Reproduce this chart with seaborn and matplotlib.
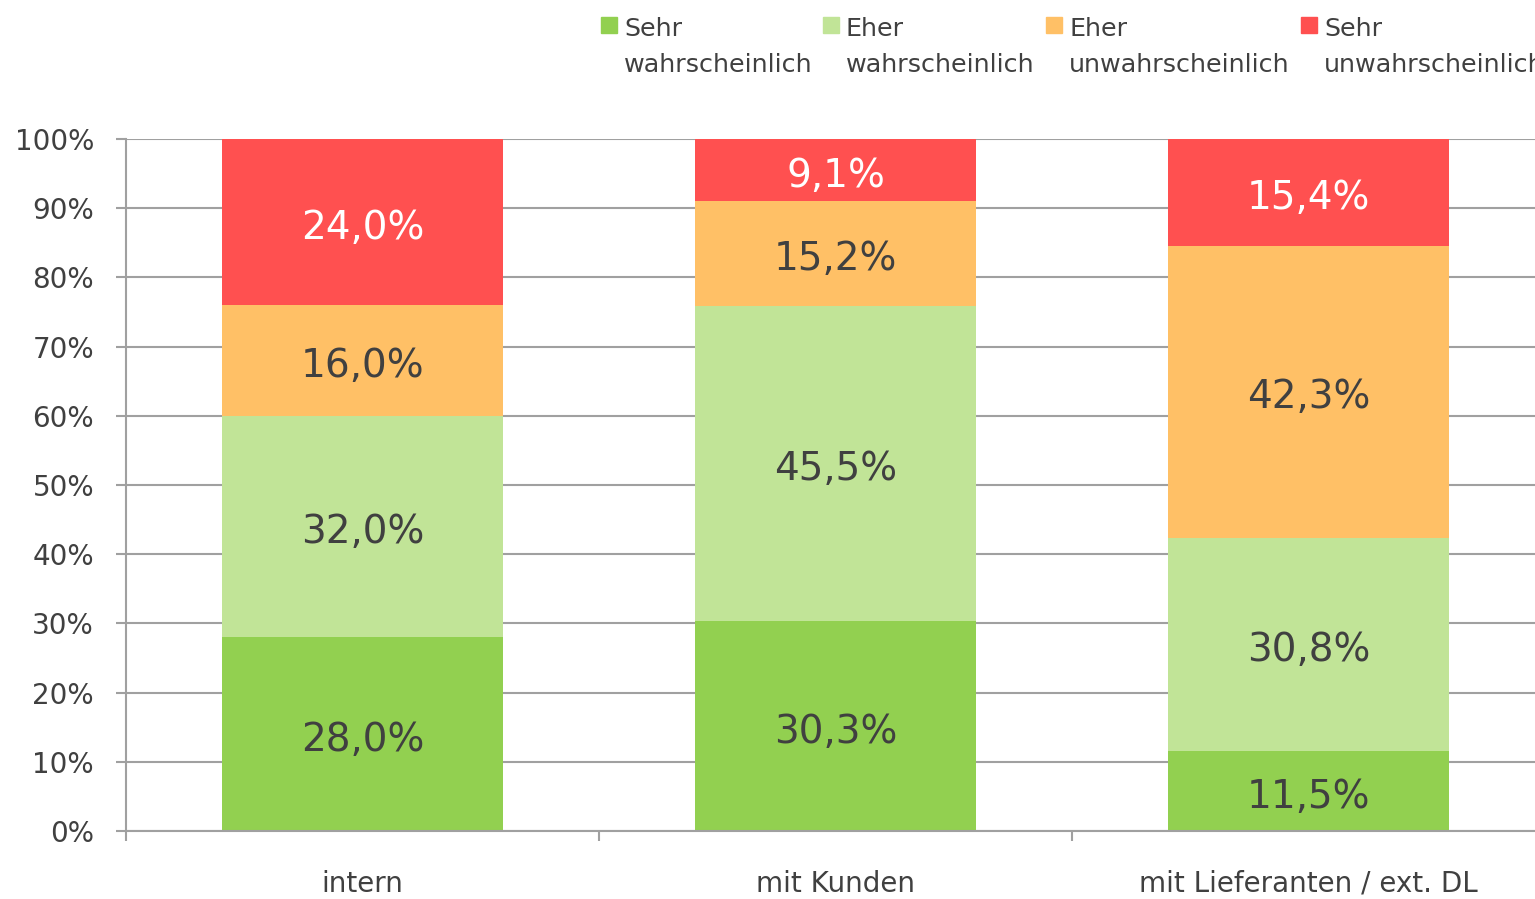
import matplotlib
matplotlib.use("Agg")
import matplotlib.pyplot as plt
import seaborn as sns
import numpy as np
from matplotlib.patches import Rectangle
from matplotlib.ticker import FixedLocator, PercentFormatter

categories = ["intern", "mit Kunden", "mit Lieferanten / ext. DL"]
series = ["Sehr\nwahrscheinlich", "Eher\nwahrscheinlich", "Eher\nunwahrscheinlich", "Sehr\nunwahrscheinlich"]
sehr_w = [28.0, 30.3, 11.5]
eher_w = [32.0, 45.5, 30.8]
eher_u = [16.0, 15.2, 42.3]
sehr_u = [24.0, 9.1, 15.4]
colors = ["#92D050", "#C1E497", "#FFC066", "#FF5050"]
label_colors = ["#404040", "#404040", "#404040", "#FFFFFF"]

sns.set_theme(style="white")
plt.rcParams["font.family"] = ["DejaVu Sans"]
text_col = "#404040"
grid_col = "#A0A0A0"

fig = plt.figure(figsize=(15.35, 8.99), dpi=100)
ax = fig.add_axes([126 / 1535, 68 / 899, 1419 / 1535, 692 / 899])

values = np.array([sehr_w, eher_w, eher_u, sehr_u])
cum = np.cumsum(values, axis=0)

for i in range(len(series) - 1, -1, -1):
    sns.barplot(x=categories, y=list(cum[i]), color=colors[i], saturation=1,
                width=0.594, ax=ax, zorder=2, linewidth=0)

for i in range(len(series)):
    for j in range(len(categories)):
        bottom = cum[i][j] - values[i][j]
        top = min(cum[i][j], 100.0)
        mid = (bottom + top) / 2
        ax.annotate(f"{values[i][j]:.1f}%".replace(".", ","), xy=(j, mid), xytext=(0, -4),
                    textcoords="offset points", ha="center", va="center",
                    fontsize=28, color=label_colors[i], zorder=3)

ax.set_xlim(-0.5, 2.5)
ax.set_ylim(0, 100)
ax.yaxis.set_major_locator(FixedLocator(np.arange(0, 101, 10)))
ax.yaxis.set_major_formatter(PercentFormatter(decimals=0))
ax.set_axisbelow(True)
ax.yaxis.grid(True, color=grid_col, linewidth=1.5, zorder=0)
ax.xaxis.grid(False)
ax.set_xlabel("")
ax.set_ylabel("")

for s in ["top", "right"]:
    ax.spines[s].set_visible(False)
for s in ["left", "bottom"]:
    ax.spines[s].set_color(grid_col)
    ax.spines[s].set_linewidth(1.5)

ax.xaxis.set_minor_locator(FixedLocator([-0.5, 0.5, 1.5, 2.5]))
ax.tick_params(axis="x", which="major", length=0, pad=28, labelsize=20, labelcolor=text_col)
ax.tick_params(axis="x", which="minor", length=7, width=1.5, color=grid_col, direction="out", bottom=True)
ax.tick_params(axis="y", which="major", length=7, width=1.5, color=grid_col, direction="out",
               left=True, pad=16, labelsize=20, labelcolor=text_col)

# legend
leg_x = [601, 823, 1046, 1301]
W, H = 1535, 899
for i, name in enumerate(series):
    l1, l2 = name.split("\n")
    fig.patches.append(Rectangle((leg_x[i] / W, 1 - 33 / H), 16 / W, 16 / H,
                                 transform=fig.transFigure, color=colors[i], figure=fig))
    fig.text((leg_x[i] + 23) / W, 1 - 36 / H, l1, fontsize=18.3, color=text_col, va="baseline", ha="left")
    fig.text((leg_x[i] + 23) / W, 1 - 72 / H, l2, fontsize=18.3, color=text_col, va="baseline", ha="left")

fig.savefig("out.png", dpi=100)
